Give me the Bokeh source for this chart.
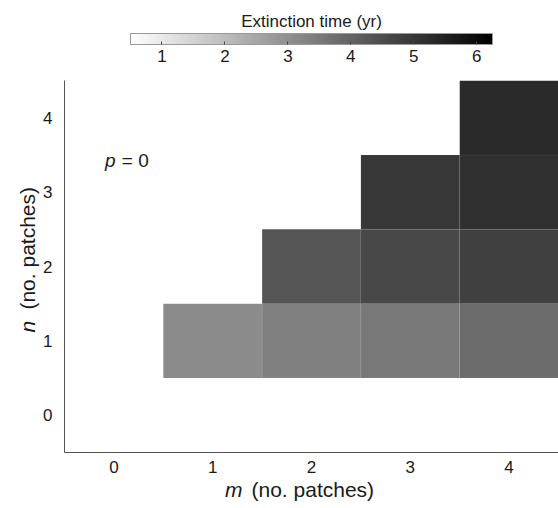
import numpy as np
from bokeh.plotting import figure
from bokeh.layouts import column, row
from bokeh.models import (ColumnDataSource, LinearColorMapper, ColorBar, FixedTicker,
                          Label, Range1d)
from bokeh.core.properties import value
from bokeh.palettes import gray
from bokeh.embed import file_html
from bokeh.resources import INLINE

# Data: extinction time (yr) per (m, n) cell
m_vals = [1, 2, 3, 4, 2, 3, 4, 3, 4, 4]
n_vals = [1, 1, 1, 1, 2, 2, 2, 3, 3, 4]
ext_time = [3.12, 3.36, 3.54, 3.81, 4.33, 4.63, 4.81, 5.01, 5.17, 5.30]
x_ticks = [0, 1, 2, 3, 4]
y_ticks = [0, 1, 2, 3, 4]
cbar_ticks = [1, 2, 3, 4, 5, 6]
cbar_low, cbar_high = 0.5, 6.25

FONT = "Liberation Sans"
TXT = "#1a1a1a"


def blank_fig(w, h):
    f = figure(width=w, height=h, output_backend="svg", toolbar_location=None,
               x_range=Range1d(0, w), y_range=Range1d(0, h),
               x_axis_type=None, y_axis_type=None, min_border=0)
    f.outline_line_color = None
    return f


src = ColumnDataSource(dict(m=m_vals, n=n_vals, t=ext_time))
mapper = LinearColorMapper(palette=list(reversed(gray(256))), low=cbar_low, high=cbar_high)

# ---- main heatmap ----
p = figure(width=518, height=406, output_backend="svg", toolbar_location=None,
           x_range=Range1d(-0.5, 4.5), y_range=Range1d(-0.5, 4.5),
           min_border_left=22, min_border_right=0, min_border_top=8,
           min_border_bottom=26)
p.outline_line_color = None
p.grid.grid_line_color = None

p.rect(x="m", y="n", width=1, height=1, source=src,
       fill_color={"field": "t", "transform": mapper},
       line_color="white", line_alpha=0.06, line_width=1)

for ax in (p.xaxis, p.yaxis):
    ax.major_tick_line_color = None
    ax.minor_tick_line_color = None
    ax.axis_line_color = "#555555"
    ax.major_label_text_font = FONT
    ax.major_label_text_font_size = "17px"
    ax.major_label_text_color = TXT
p.xaxis.ticker = FixedTicker(ticks=x_ticks)
p.yaxis.ticker = FixedTicker(ticks=y_ticks)
p.yaxis.major_label_orientation = "horizontal"
p.xaxis.major_label_standoff = 2
p.yaxis.major_label_standoff = 6

# p = 0 annotation
p.add_layout(Label(x=-0.09, y=3.42, text="p", text_font=FONT, text_font_style="italic",
                   text_font_size="19px", text_align="left", text_baseline="middle",
                   text_color=TXT))
p.add_layout(Label(x=0.08, y=3.42, text="= 0", text_font=FONT,
                   text_font_size="19px", text_align="left", text_baseline="middle",
                   text_color=TXT))

# ---- y axis title ----
ylab = blank_fig(40, 406)
ylab.text(x=[27], y=[131], text=["n"], text_font=value(FONT), text_font_style="italic",
          text_font_size="21px", text_align="left", text_baseline="middle",
          angle=np.pi / 2, text_color=TXT)
ylab.text(x=[27], y=[156], text=["(no. patches)"], text_font=value(FONT),
          text_font_size="21px", text_align="left", text_baseline="middle",
          angle=np.pi / 2, text_color=TXT)

# ---- x axis title ----
xlab = blank_fig(558, 24)
xlab.text(x=[242], y=[13], text=["m"], text_font=value(FONT), text_font_style="italic",
          text_font_size="21px", text_align="right", text_baseline="middle", text_color=TXT)
xlab.text(x=[251], y=[13], text=["(no. patches)"], text_font=value(FONT),
          text_font_size="21px", text_align="left", text_baseline="middle", text_color=TXT)

# ---- colour bar ----
top = blank_fig(558, 72)
top.text(x=[311], y=[51], text=["Extinction time (yr)"], text_font=value(FONT),
         text_font_size="17px", text_align="center", text_baseline="middle", text_color=TXT)
cb = ColorBar(color_mapper=mapper, orientation="horizontal", width=362, height=11,
              ticker=FixedTicker(ticks=cbar_ticks),
              major_label_text_font=FONT, major_label_text_font_size="17px",
              major_label_text_color=TXT,
              major_tick_line_color="#444444", major_tick_in=3, major_tick_out=0,
              bar_line_color="#999999", padding=0, location=(130, 8),
              background_fill_color=None)
top.add_layout(cb, "center")

layout = column(top, row(ylab, p), xlab)
open("out.html", "w").write(file_html(layout, INLINE))
